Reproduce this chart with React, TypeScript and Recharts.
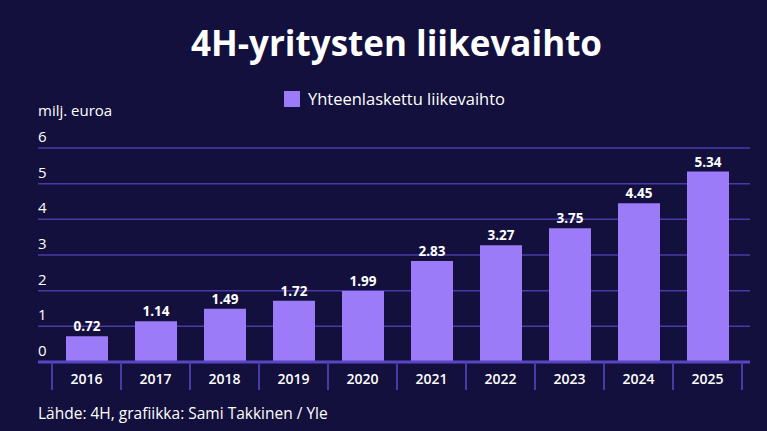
import { BarChart, Bar, XAxis, YAxis, CartesianGrid, LabelList } from 'recharts'

const years = ['2016', '2017', '2018', '2019', '2020', '2021', '2022', '2023', '2024', '2025']
const revenue = [0.72, 1.14, 1.49, 1.72, 1.99, 2.83, 3.27, 3.75, 4.45, 5.34]
const yTicks = [0, 1, 2, 3, 4, 5, 6]

const data = years.map((year, i) => ({ year, value: revenue[i] }))

const BG = '#13103d'
const BAR = '#9b7bf7'
const GRID = '#4b3aa6'
const FONT = '"Open Sans", "Noto Sans", sans-serif'
const BAND = 69

function YearTick(props: any) {
  const { x, y, payload, index } = props
  const left = x - BAND / 2
  return (
    <g>
      <line x1={left} y1={y - 8} x2={left} y2={y + 20} stroke={GRID} strokeWidth={2} />
      {index === years.length - 1 && (
        <line x1={left + BAND} y1={y - 8} x2={left + BAND} y2={y + 20} stroke={GRID} strokeWidth={2} />
      )}
      <text x={x} y={y + 14} textAnchor="middle" fill="#ffffff" fontSize={14} fontWeight={600} fontFamily={FONT}>
        {payload.value}
      </text>
    </g>
  )
}

function ValueTick(props: any) {
  const { y, payload } = props
  return (
    <text x={38} y={y - 6} fill="#ffffff" fontSize={15} fontFamily={FONT}>
      {payload.value}
    </text>
  )
}

export default function App() {
  return (
    <div style={{ position: 'absolute', left: 0, top: 0, width: 767, height: 431, background: BG, fontFamily: FONT }}>
      <div style={{ position: 'absolute', left: 0, width: 767, top: 19, textAlign: 'center', color: '#fff', fontSize: 35, fontWeight: 700, paddingLeft: 26, boxSizing: 'border-box' }}>
        4H-yritysten liikevaihto
      </div>
      <div style={{ position: 'absolute', left: 0, width: 767, top: 87, display: 'flex', justifyContent: 'center', alignItems: 'center', gap: 8, paddingLeft: 22, boxSizing: 'border-box' }}>
        <span style={{ width: 16, height: 16, background: BAR, display: 'inline-block' }} />
        <span style={{ color: '#ffffff', fontSize: 16.5 }}>Yhteenlaskettu liikevaihto</span>
      </div>
      <div style={{ position: 'absolute', left: 38, top: 100, color: '#fff', fontSize: 15 }}>milj. euroa</div>
      <div style={{ position: 'absolute', left: 38, top: 402, color: '#fff', fontSize: 15.5 }}>
        Lähde: 4H, grafiikka: Sami Takkinen / Yle
      </div>
      <BarChart
        width={767}
        height={431}
        data={data}
        margin={{ top: 148, right: 17, bottom: 39, left: 24 }}
        barSize={42}
        style={{ position: 'absolute', left: 0, top: 0 }}
      >
        <CartesianGrid horizontal vertical={false} stroke={GRID} strokeWidth={1.5} />
        <XAxis
          dataKey="year"
          height={30}
          padding={{ left: 14, right: 8 }}
          axisLine={{ stroke: '#5a46c4', strokeWidth: 3 }}
          tickLine={false}
          tick={<YearTick />}
          interval={0}
        />
        <YAxis width={14} domain={[0, 6]} ticks={yTicks} axisLine={false} tickLine={false} tick={<ValueTick />} />
        <Bar dataKey="value" fill={BAR} isAnimationActive={false}>
          <LabelList dataKey="value" position="top" offset={5} fill="#ffffff" fontSize={13.5} fontWeight={700} fontFamily={FONT} />
        </Bar>
      </BarChart>
    </div>
  )
}
